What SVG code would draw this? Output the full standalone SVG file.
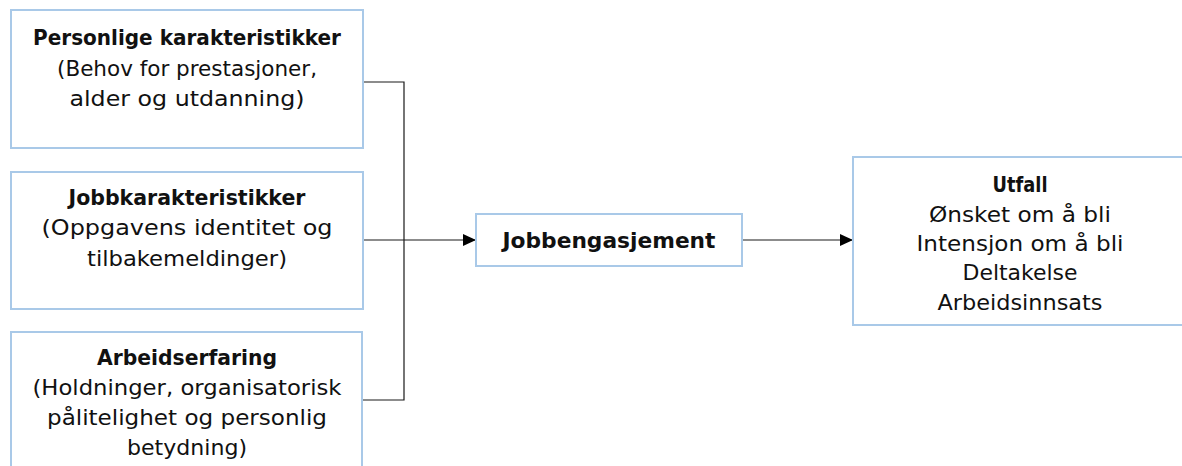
<svg xmlns="http://www.w3.org/2000/svg" width="1182" height="466" viewBox="0 0 1182 466">
  <style>
    .box { fill: #ffffff; stroke: #a9c9e8; stroke-width: 2; }
    .t { font-family: "DejaVu Sans", Verdana, sans-serif; font-size: 22px; fill: #111111; text-anchor: middle; }
    .b { font-weight: bold; }
    .conn { fill: none; stroke: #1a1a1a; stroke-width: 1.2; }
  </style>
  <defs>
    <marker id="arrow" viewBox="0 0 13 12" refX="13" refY="6" markerWidth="13" markerHeight="12" markerUnits="userSpaceOnUse" orient="auto">
      <path d="M0,0 L13,6 L0,12 Z" fill="#000000"/>
    </marker>
  </defs>
  <rect width="1182" height="466" fill="#ffffff"/>

  <g id="connectors">
    <polyline class="conn" points="363,82 404,82 404,400 362,400"/>
    <line class="conn" x1="363" y1="240" x2="476" y2="240" marker-end="url(#arrow)"/>
    <line class="conn" x1="742" y1="240" x2="853" y2="240" marker-end="url(#arrow)"/>
  </g>

  <g id="personlige">
    <rect class="box" x="11" y="10" width="352" height="138"/>
    <text class="t b" x="187" y="45" textLength="308" lengthAdjust="spacingAndGlyphs">Personlige karakteristikker</text>
    <text class="t" x="187" y="76" textLength="260" lengthAdjust="spacingAndGlyphs">(Behov for prestasjoner,</text>
    <text class="t" x="187" y="106" textLength="235" lengthAdjust="spacingAndGlyphs">alder og utdanning)</text>
  </g>

  <g id="jobbkarakteristikker">
    <rect class="box" x="11" y="172" width="352" height="137"/>
    <text class="t b" x="187" y="205" textLength="237" lengthAdjust="spacingAndGlyphs">Jobbkarakteristikker</text>
    <text class="t" x="187" y="235" textLength="291" lengthAdjust="spacingAndGlyphs">(Oppgavens identitet og</text>
    <text class="t" x="187" y="266" textLength="200" lengthAdjust="spacingAndGlyphs">tilbakemeldinger)</text>
  </g>

  <g id="arbeidserfaring">
    <rect class="box" x="11" y="332" width="351" height="150"/>
    <text class="t b" x="187" y="365" textLength="180" lengthAdjust="spacingAndGlyphs">Arbeidserfaring</text>
    <text class="t" x="187" y="395" textLength="309" lengthAdjust="spacingAndGlyphs">(Holdninger, organisatorisk</text>
    <text class="t" x="187" y="425" textLength="280" lengthAdjust="spacingAndGlyphs">pålitelighet og personlig</text>
    <text class="t" x="187" y="455" textLength="120" lengthAdjust="spacingAndGlyphs">betydning)</text>
  </g>

  <g id="jobbengasjement">
    <rect class="box" x="476" y="214" width="266" height="52"/>
    <text class="t b" x="609" y="248" textLength="213" lengthAdjust="spacingAndGlyphs">Jobbengasjement</text>
  </g>

  <g id="utfall">
    <rect class="box" x="853" y="157" width="340" height="168"/>
    <text class="t b" x="1020" y="192" textLength="55" lengthAdjust="spacingAndGlyphs">Utfall</text>
    <text class="t" x="1020" y="222" textLength="182" lengthAdjust="spacingAndGlyphs">Ønsket om å bli</text>
    <text class="t" x="1020" y="251" textLength="207" lengthAdjust="spacingAndGlyphs">Intensjon om å bli</text>
    <text class="t" x="1020" y="280" textLength="115" lengthAdjust="spacingAndGlyphs">Deltakelse</text>
    <text class="t" x="1020" y="310" textLength="165" lengthAdjust="spacingAndGlyphs">Arbeidsinnsats</text>
  </g>
</svg>
